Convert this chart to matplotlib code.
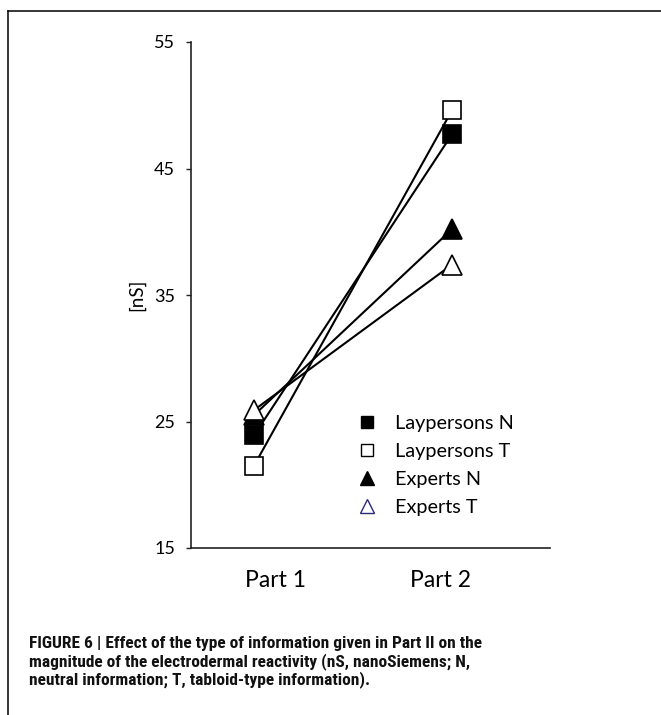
import matplotlib
matplotlib.use('Agg')
import matplotlib.pyplot as plt
from matplotlib import font_manager as fm
from matplotlib.lines import Line2D

# values (nS)
parts = ["Part 1", "Part 2"]
series = ["Laypersons N", "Laypersons T", "Experts N", "Experts T"]
laypersons_n = [23.9, 47.7]
laypersons_t = [21.5, 49.6]
experts_n = [25.5, 40.2]
experts_t = [25.9, 37.4]
y_ticks = [15, 25, 35, 45, 55]

caption = [
    "FIGURE 6 | Effect of the type of information given in Part II on the",
    "magnitude of the electrodermal reactivity (nS, nanoSiemens; N,",
    "neutral information; T, tabloid-type information).",
]

plt.rcParams['font.family'] = ['Lato', 'DejaVu Sans']


def condensed_bold():
    # caption is set in a bold condensed face; use one if the system has it
    best = None
    for f in fm.fontManager.ttflist:
        narrow = ('Narrow' in f.name or 'Condensed' in f.name
                  or f.stretch in ('condensed', 'semi-condensed', 'extra-condensed', 600))
        if narrow and f.weight in ('bold', 700, 'heavy') and 'Oblique' not in f.fname \
                and 'Italic' not in f.fname and f.style == 'normal':
            best = f.fname
            if 'Liberation' in f.name:
                break
    if best:
        return fm.FontProperties(fname=best, size=12.5)
    return fm.FontProperties(family='Liberation Sans', weight='bold', size=11.5)


fig = plt.figure(figsize=(6.61, 7.15), dpi=100)
ax = fig.add_axes([191 / 661, 1 - 548 / 715, 359 / 661, 506 / 715])

x = [0, 1]
styles = {
    "Laypersons N": dict(marker='s', mfc='black', mec='black', ms=13.5),
    "Laypersons T": dict(marker='s', mfc='white', mec='black', ms=13.5),
    "Experts N": dict(marker='^', mfc='black', mec='black', ms=14.5),
    "Experts T": dict(marker='^', mfc='white', mec='black', ms=14.5),
}
values = {
    "Laypersons N": laypersons_n,
    "Laypersons T": laypersons_t,
    "Experts N": experts_n,
    "Experts T": experts_t,
}

# lines first, markers on top
for name in series:
    ax.plot(x, values[name], color='black', lw=1.5, zorder=1)
for z, name in enumerate(["Experts N", "Laypersons N", "Laypersons T", "Experts T"]):
    ax.plot(x, values[name], ls='none', mew=1.2, zorder=2 + z, **styles[name])

ax.set_xlim(-0.318, 1.495)
ax.set_ylim(15, 55)
ax.set_yticks(y_ticks)
ax.set_xticks([0.11, 0.94])
ax.set_xticklabels(parts, fontsize=16.5)
ax.tick_params(axis='x', length=0, pad=16)
ax.tick_params(axis='y', length=3.5, width=1.0, labelsize=13, pad=8, color='#222222')
for s in ['top', 'right']:
    ax.spines[s].set_visible(False)
for s in ['left', 'bottom']:
    ax.spines[s].set_linewidth(1.2)
    ax.spines[s].set_color('#222222')
ax.set_ylabel("[nS]", fontsize=13.5, labelpad=6)

handles = [
    Line2D([], [], ls='none', marker='s', mfc='black', mec='black', ms=9),
    Line2D([], [], ls='none', marker='s', mfc='white', mec='black', ms=9, mew=1.0),
    Line2D([], [], ls='none', marker='^', mfc='black', mec='black', ms=10),
    Line2D([], [], ls='none', marker='^', mfc='white', mec='#2b2a7a', ms=10, mew=1.0),
]
ax.legend(handles, series, loc='upper left', bbox_to_anchor=(0.435, 0.283),
          frameon=False, fontsize=14.3, handlelength=1.0, handletextpad=0.9,
          labelspacing=0.56, borderpad=0)

# figure frame (top and left edges only)
fig.add_artist(Line2D([8 / 661, 1], [1 - 11 / 715, 1 - 11 / 715], color='black', lw=1.1))
fig.add_artist(Line2D([8 / 661, 8 / 661], [0, 1 - 11 / 715], color='black', lw=1.1))

cap_font = condensed_bold()
for i, line in enumerate(caption):
    fig.text(29 / 661, 1 - (648 + 18 * i) / 715, line, fontproperties=cap_font,
             va='baseline', color='#111111')

fig.savefig("out.png", dpi=100)
